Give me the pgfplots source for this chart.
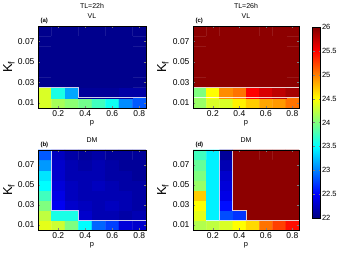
\documentclass[border=0pt]{standalone}
\usepackage{fontspec}
\setmainfont{Liberation Sans}
\usepackage{pgfplots}
\pgfplotsset{compat=1.18}
\usepackage{pgfplotstable}

\pgfplotstableread{
x y c
0.1 0.01 24.35
0.2 0.01 24.15
0.3 0.01 24.05
0.4 0.01 23.95
0.5 0.01 23.75
0.6 0.01 23.55
0.7 0.01 23.05
0.8 0.01 22.85
0.1 0.02 24.35
0.2 0.02 23.6
0.3 0.02 23.15
0.4 0.02 22.1
0.5 0.02 22.1
0.6 0.02 22.1
0.7 0.02 22.15
0.8 0.02 22.15
0.1 0.03 22.05
0.2 0.03 22.05
0.3 0.03 22.05
0.4 0.03 22.05
0.5 0.03 22.05
0.6 0.03 22.05
0.7 0.03 22.05
0.8 0.03 22.05
0.1 0.04 22.05
0.2 0.04 22.05
0.3 0.04 22.05
0.4 0.04 22.05
0.5 0.04 22.05
0.6 0.04 22.05
0.7 0.04 22.05
0.8 0.04 22.05
0.1 0.05 22.05
0.2 0.05 22.05
0.3 0.05 22.05
0.4 0.05 22.05
0.5 0.05 22.05
0.6 0.05 22.05
0.7 0.05 22.05
0.8 0.05 22.05
0.1 0.06 22.05
0.2 0.06 22.05
0.3 0.06 22.05
0.4 0.06 22.05
0.5 0.06 22.05
0.6 0.06 22.05
0.7 0.06 22.05
0.8 0.06 22.05
0.1 0.07 22.05
0.2 0.07 22.05
0.3 0.07 22.05
0.4 0.07 22.05
0.5 0.07 22.05
0.6 0.07 22.05
0.7 0.07 22.05
0.8 0.07 22.05
0.1 0.08 22.05
0.2 0.08 22.05
0.3 0.08 22.05
0.4 0.08 22.05
0.5 0.08 22.05
0.6 0.08 22.05
0.7 0.08 22.05
0.8 0.08 22.05
}\dataA

\pgfplotstableread{
x y c
0.1 0.01 24.1
0.2 0.01 24.35
0.3 0.01 24.35
0.4 0.01 24.55
0.5 0.01 24.7
0.6 0.01 24.85
0.7 0.01 24.9
0.8 0.01 25.05
0.1 0.02 24.0
0.2 0.02 24.5
0.3 0.02 24.95
0.4 0.02 25.05
0.5 0.02 25.5
0.6 0.02 25.65
0.7 0.02 25.75
0.8 0.02 25.85
0.1 0.03 25.95
0.2 0.03 25.95
0.3 0.03 25.95
0.4 0.03 25.95
0.5 0.03 25.95
0.6 0.03 25.95
0.7 0.03 25.95
0.8 0.03 25.95
0.1 0.04 25.95
0.2 0.04 25.95
0.3 0.04 25.95
0.4 0.04 25.95
0.5 0.04 25.95
0.6 0.04 25.95
0.7 0.04 25.95
0.8 0.04 25.95
0.1 0.05 25.95
0.2 0.05 25.95
0.3 0.05 25.95
0.4 0.05 25.95
0.5 0.05 25.95
0.6 0.05 25.95
0.7 0.05 25.95
0.8 0.05 25.95
0.1 0.06 25.95
0.2 0.06 25.95
0.3 0.06 25.95
0.4 0.06 25.95
0.5 0.06 25.95
0.6 0.06 25.95
0.7 0.06 25.95
0.8 0.06 25.95
0.1 0.07 25.95
0.2 0.07 25.95
0.3 0.07 25.95
0.4 0.07 25.95
0.5 0.07 25.95
0.6 0.07 25.95
0.7 0.07 25.95
0.8 0.07 25.95
0.1 0.08 25.95
0.2 0.08 25.95
0.3 0.08 25.95
0.4 0.08 25.95
0.5 0.08 25.95
0.6 0.08 25.95
0.7 0.08 25.95
0.8 0.08 25.95
}\dataC

\pgfplotstableread{
x y c
0.1 0.01 24.4
0.2 0.01 24.3
0.3 0.01 24.0
0.4 0.01 23.5
0.5 0.01 22.9
0.6 0.01 22.75
0.7 0.01 22.35
0.8 0.01 22.3
0.1 0.02 24.25
0.2 0.02 23.6
0.3 0.02 23.6
0.4 0.02 22.3
0.5 0.02 22.2
0.6 0.02 22.2
0.7 0.02 22.15
0.8 0.02 22.2
0.1 0.03 24.0
0.2 0.03 22.45
0.3 0.03 22.3
0.4 0.03 22.25
0.5 0.03 22.2
0.6 0.03 22.25
0.7 0.03 22.2
0.8 0.03 22.15
0.1 0.04 23.75
0.2 0.04 22.4
0.3 0.04 22.25
0.4 0.04 22.2
0.5 0.04 22.2
0.6 0.04 22.2
0.7 0.04 22.2
0.8 0.04 22.15
0.1 0.05 23.5
0.2 0.05 22.35
0.3 0.05 22.25
0.4 0.05 22.2
0.5 0.05 22.25
0.6 0.05 22.2
0.7 0.05 22.15
0.8 0.05 22.15
0.1 0.06 23.4
0.2 0.06 22.3
0.3 0.06 22.2
0.4 0.06 22.2
0.5 0.06 22.2
0.6 0.06 22.15
0.7 0.06 22.15
0.8 0.06 22.1
0.1 0.07 23.1
0.2 0.07 22.3
0.3 0.07 22.2
0.4 0.07 22.15
0.5 0.07 22.2
0.6 0.07 22.15
0.7 0.07 22.1
0.8 0.07 22.1
0.1 0.08 22.85
0.2 0.08 22.25
0.3 0.08 22.15
0.4 0.08 22.1
0.5 0.08 22.15
0.6 0.08 22.1
0.7 0.08 22.1
0.8 0.08 22.1
}\dataB

\pgfplotstableread{
x y c
0.1 0.01 24.2
0.2 0.01 24.25
0.3 0.01 24.35
0.4 0.01 24.5
0.5 0.01 24.65
0.6 0.01 25.05
0.7 0.01 25.25
0.8 0.01 25.45
0.1 0.02 24.4
0.2 0.02 23.45
0.3 0.02 22.8
0.4 0.02 22.7
0.5 0.02 25.95
0.6 0.02 25.95
0.7 0.02 25.95
0.8 0.02 25.95
0.1 0.03 24.5
0.2 0.03 23.45
0.3 0.03 22.55
0.4 0.03 25.95
0.5 0.03 25.95
0.6 0.03 25.95
0.7 0.03 25.95
0.8 0.03 25.95
0.1 0.04 24.7
0.2 0.04 23.45
0.3 0.04 22.4
0.4 0.04 25.95
0.5 0.04 25.95
0.6 0.04 25.95
0.7 0.04 25.95
0.8 0.04 25.95
0.1 0.05 24.1
0.2 0.05 23.45
0.3 0.05 22.35
0.4 0.05 25.95
0.5 0.05 25.95
0.6 0.05 25.95
0.7 0.05 25.95
0.8 0.05 25.95
0.1 0.06 24.0
0.2 0.06 23.45
0.3 0.06 22.3
0.4 0.06 25.95
0.5 0.06 25.95
0.6 0.06 25.95
0.7 0.06 25.95
0.8 0.06 25.95
0.1 0.07 23.9
0.2 0.07 23.45
0.3 0.07 22.2
0.4 0.07 25.95
0.5 0.07 25.95
0.6 0.07 25.95
0.7 0.07 25.95
0.8 0.07 25.95
0.1 0.08 23.75
0.2 0.08 23.45
0.3 0.08 22.1
0.4 0.08 25.95
0.5 0.08 25.95
0.6 0.08 25.95
0.7 0.08 25.95
0.8 0.08 25.95
}\dataD

\pgfplotsset{
  /pgf/number format/assume math mode=true,
  panel/.style={
    scale only axis, scaled ticks=false,
    xmin=0.05, xmax=0.85, ymin=0.005, ymax=0.085,
    xtick={0.2,0.4,0.6,0.8}, xticklabels={0.2,0.4,0.6,0.8},
    ytick={0.01,0.03,0.05,0.07}, yticklabels={0.01,0.03,0.05,0.07},
    colormap/jet, point meta min=22, point meta max=26,
    tick label style={font=\fontsize{8.5}{9}\selectfont},
    xticklabel style={yshift=1pt},
    tick align=inside, major tick length=2pt,
    axis on top, axis line style={line width=0.6pt},
    xlabel={p},
    xlabel style={font=\fontsize{7.5}{8}\selectfont, at={(axis description cs:0.5,0)}, anchor=center, yshift=-15pt},
  },
  cells/.style={matrix plot*, mesh/cols=8, point meta=explicit, forget plot},
  cont/.style={white, line width=0.6pt, opacity=0.8, forget plot, sharp plot, no marks, mesh/check=false, point meta=none},
}

\begin{document}
\begin{tikzpicture}[x=1pt,y=1pt]
\useasboundingbox (0,0) rectangle (339,255);

% (a)
\begin{axis}[panel, name=pa, at={(38pt,147pt)}, anchor=south west, width=108pt, height=82pt]
\addplot[cells] table[x=x, y=y, meta=c] {\dataA};
\addplot[cont] coordinates {(0.05,0.025) (0.35,0.025) (0.35,0.015) (0.85,0.015)};
\end{axis}
\node[font=\fontsize{7}{8}\selectfont] at ([yshift=20pt]pa.north) {TL=22h};
\node[font=\fontsize{7}{8}\selectfont] at ([yshift=10pt]pa.north) {VL};
\node[font=\bfseries\fontsize{6}{7}\selectfont, anchor=west] at ([yshift=5pt,xshift=-1pt]pa.north west) {(a)};
\node[font=\fontsize{13}{14}\selectfont, rotate=90] at ([xshift=-29pt]pa.west) {K\textsubscript{f}};

% (c)
\begin{axis}[panel, name=pc, at={(193pt,147pt)}, anchor=south west, width=106pt, height=82pt,
  colorbar,
  colorbar style={scale only axis, at={(parent axis.north east)}, anchor=north west,
    xshift=5pt, yshift=-1pt, width=8pt, height=191pt,
    ytick={22,22.5,...,26},
    yticklabel style={font=\fontsize{7.5}{8}\selectfont, xshift=-2pt, /pgf/number format/assume math mode=true},
    major tick length=2pt, axis line style={line width=0.6pt}}]
\addplot[cells] table[x=x, y=y, meta=c] {\dataC};
\addplot[cont] coordinates {(0.05,0.025) (0.85,0.025)};
\addplot[cont] coordinates {(0.05,0.015) (0.85,0.015)};
\end{axis}
\node[font=\fontsize{7}{8}\selectfont] at ([yshift=20pt]pc.north) {TL=26h};
\node[font=\fontsize{7}{8}\selectfont] at ([yshift=10pt]pc.north) {VL};
\node[font=\bfseries\fontsize{6}{7}\selectfont, anchor=west] at ([yshift=5pt,xshift=-1pt]pc.north west) {(c)};
\node[font=\fontsize{13}{14}\selectfont, rotate=90] at ([xshift=-30pt]pc.west) {K\textsubscript{f}};

% (b)
\begin{axis}[panel, name=pb, at={(38pt,25pt)}, anchor=south west, width=108pt, height=80pt]
\addplot[cells] table[x=x, y=y, meta=c] {\dataB};
\addplot[cont] coordinates {(0.15,0.085) (0.15,0.025) (0.35,0.025) (0.35,0.015) (0.85,0.015)};
\end{axis}
\node[font=\fontsize{7}{8}\selectfont] at ([yshift=10pt]pb.north) {DM};
\node[font=\bfseries\fontsize{6}{7}\selectfont, anchor=west] at ([yshift=5pt,xshift=-1pt]pb.north west) {(b)};
\node[font=\fontsize{13}{14}\selectfont, rotate=90] at ([xshift=-29pt]pb.west) {K\textsubscript{f}};

% (d)
\begin{axis}[panel, name=pd, at={(193pt,25pt)}, anchor=south west, width=106pt, height=80pt]
\addplot[cells] table[x=x, y=y, meta=c] {\dataD};
\addplot[cont] coordinates {(0.35,0.085) (0.35,0.025) (0.45,0.025) (0.45,0.015) (0.85,0.015)};
\addplot[cont] coordinates {(0.25,0.085) (0.25,0.015)};
\addplot[cont] coordinates {(0.15,0.015) (0.45,0.015)};
\end{axis}
\node[font=\fontsize{7}{8}\selectfont] at ([yshift=10pt]pd.north) {DM};
\node[font=\bfseries\fontsize{6}{7}\selectfont, anchor=west] at ([yshift=5pt,xshift=-1pt]pd.north west) {(d)};
\node[font=\fontsize{13}{14}\selectfont, rotate=90] at ([xshift=-30pt]pd.west) {K\textsubscript{f}};
\end{tikzpicture}
\end{document}
